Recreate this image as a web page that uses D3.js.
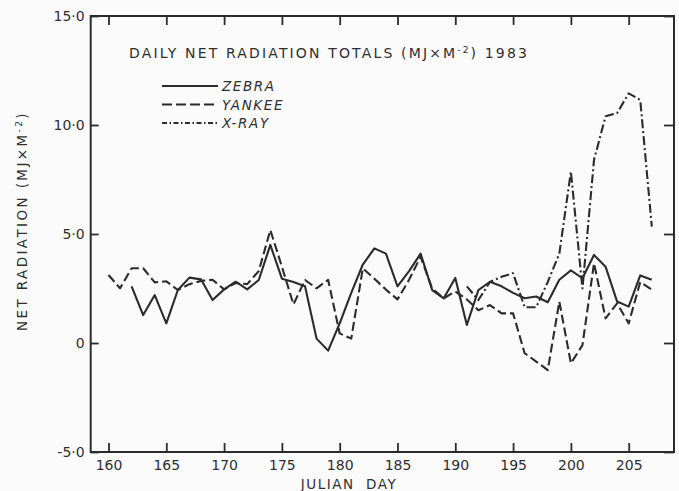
<!DOCTYPE html>
<html>
<head>
<meta charset="utf-8">
<script src="https://cdn.jsdelivr.net/npm/d3@7"></script>
<style>
  html, body { margin: 0; padding: 0; background: #fbfbfb; }
  svg { display: block; }
  text { font-family: "DejaVu Sans", "Liberation Sans", sans-serif; fill: #2f2f2f; }
</style>
</head>
<body>
<svg id="chart" width="679" height="491"></svg>
<script>
// ---------- data ----------
const seriesNames = ["ZEBRA", "YANKEE", "X-RAY"];
const zebraStartDay = 162;
const zebraValues = [2.6, 1.28, 2.2, 0.9, 2.43, 3.0, 2.92, 1.97, 2.46, 2.81,
  2.46, 2.89, 4.5, 2.95, 2.8, 2.6, 0.2, -0.35, 0.9, 2.3,
  3.6, 4.34, 4.1, 2.6, 3.3, 4.1, 2.43, 2.05, 2.98, 0.83,
  2.43, 2.81, 2.6, 2.3, 2.05, 2.13, 1.87, 2.9, 3.33, 2.97,
  4.04, 3.5, 1.9, 1.67, 3.1, 2.9];
const yankeeStartDay = 160;
const yankeeValues = [3.12, 2.51, 3.43, 3.43, 2.78, 2.83, 2.43, 2.7, 2.85, 2.9,
  2.46, 2.75, 2.7, 3.3, 5.18, 3.5, 1.77, 2.89, 2.51, 2.9,
  0.44, 0.2, 3.42, 2.95, 2.45, 2.0, 2.9, 3.96, 2.5, 2.05,
  2.36, 2.0, 1.5, 1.74, 1.36, 1.36, -0.47, -0.85, -1.24, 1.9,
  -0.93, -0.1, 3.66, 1.13, 1.82, 0.9, 2.8, 2.45];
const xrayStartDay = 191;
const xrayValues = [2.6, 1.97, 2.8, 3.04, 3.2, 1.64, 1.64, 2.8, 4.1, 7.86,
  2.5, 8.4, 10.4, 10.55, 11.45, 11.15, 5.34];

const xTickValues = [160, 165, 170, 175, 180, 185, 190, 195, 200, 205];
const yTickValues = [-5, 0, 5, 10, 15];
const yTickLabels = ["-5·0", "0", "5·0", "10·0", "15·0"];
const xDomain = [158.46, 208.92];
const yDomain = [-5, 15];
const titleText = "DAILY NET RADIATION TOTALS (MJ×M";
const titleYear = ") 1983";
const yTitleText = "NET RADIATION (MJ×M";
const xTitleText = "JULIAN  DAY";

// ---------- layout ----------
const ink = "#2b2b2b";
const plot = { left: 90.7, right: 674, top: 16, bottom: 452 };
const svg = d3.select("#chart");
svg.append("rect").attr("width", 679).attr("height", 491).attr("fill", "#fbfbfb");

const x = d3.scaleLinear().domain(xDomain).range([plot.left, plot.right]);
const y = d3.scaleLinear().domain(yDomain).range([plot.bottom, plot.top]);

function build(start, vals) { return vals.map((v, i) => ({ d: start + i, v })); }
const series = [
  { name: seriesNames[0], data: build(zebraStartDay, zebraValues), dash: null },
  { name: seriesNames[1], data: build(yankeeStartDay, yankeeValues), dash: "9,4" },
  { name: seriesNames[2], data: build(xrayStartDay, xrayValues), dash: "9,3,2,3" }
];

// frame
svg.append("rect")
  .attr("x", plot.left).attr("y", plot.top)
  .attr("width", plot.right - plot.left).attr("height", plot.bottom - plot.top)
  .attr("fill", "none").attr("stroke", ink).attr("stroke-width", 2);

function styleAxis(g) {
  g.select(".domain").remove();
  g.selectAll(".tick line").attr("stroke", ink).attr("stroke-width", 1.8);
  g.selectAll(".tick text").attr("fill", "#2f2f2f").style("font-size", "14px")
    .style("font-family", '"DejaVu Sans", sans-serif');
}

svg.append("g").attr("transform", `translate(0,${plot.bottom})`)
  .call(d3.axisBottom(x).tickValues(xTickValues).tickSize(-9).tickPadding(8).tickFormat(d3.format("d")))
  .call(styleAxis);
svg.append("g").attr("transform", `translate(0,${plot.top})`)
  .call(d3.axisTop(x).tickValues(xTickValues).tickSize(-9).tickFormat(""))
  .call(styleAxis);
svg.append("g").attr("transform", `translate(${plot.left},0)`)
  .call(d3.axisLeft(y).tickValues(yTickValues).tickSize(-8).tickPadding(6)
    .tickFormat((d, i) => yTickLabels[i]))
  .call(styleAxis);
svg.append("g").attr("transform", `translate(${plot.right},0)`)
  .call(d3.axisRight(y).tickValues(yTickValues).tickSize(-10).tickFormat(""))
  .call(styleAxis);

// lines
const line = d3.line().x(p => x(p.d)).y(p => y(p.v));
series.forEach(s => {
  svg.append("path").datum(s.data)
    .attr("d", line)
    .attr("fill", "none").attr("stroke", ink).attr("stroke-width", 2.1)
    .attr("stroke-linejoin", "round")
    .attr("stroke-dasharray", s.dash);
});

// spread a text element's letters to reach a target width
function fitSpacing(sel, target) {
  sel.style("letter-spacing", "0px");
  const node = sel.node();
  const w = node.getComputedTextLength();
  const n = node.textContent.length;
  sel.style("letter-spacing", ((target - w) / n) + "px");
}

// title
const title = svg.append("text").attr("x", 129).attr("y", 58)
  .style("font-size", "14px");
title.append("tspan").text(titleText);
title.append("tspan").attr("dy", -5).style("font-size", "9px").text("-2");
title.append("tspan").attr("dy", 5).text(titleYear);
fitSpacing(title, 400);

// legend
const legendDash = [null, "10,4", "5,2.5,1.5,2.5"];
series.forEach((s, i) => {
  const ly = 86 + i * 18.5;
  svg.append("line").attr("x1", 162).attr("x2", 218).attr("y1", ly).attr("y2", ly)
    .attr("stroke", ink).attr("stroke-width", 1.8).attr("stroke-dasharray", legendDash[i]);
  svg.append("text").attr("x", 222).attr("y", ly + 5)
    .style("font-size", "13.5px").style("font-style", "italic").style("letter-spacing", "1.6px")
    .text(s.name);
});

// y title
const yt = svg.append("text")
  .attr("transform", "translate(27,221) rotate(-90)")
  .attr("text-anchor", "middle")
  .style("font-size", "13.5px");
yt.append("tspan").text(yTitleText);
yt.append("tspan").attr("dy", -5).style("font-size", "9px").text("-2");
yt.append("tspan").attr("dy", 5).text(")");
fitSpacing(yt, 220);

// x title
svg.append("text").attr("x", 349).attr("y", 489).attr("text-anchor", "middle")
  .style("font-size", "13.5px").style("letter-spacing", "1.5px").style("white-space", "pre")
  .attr("xml:space", "preserve")
  .text(xTitleText);
</script>
</body>
</html>
